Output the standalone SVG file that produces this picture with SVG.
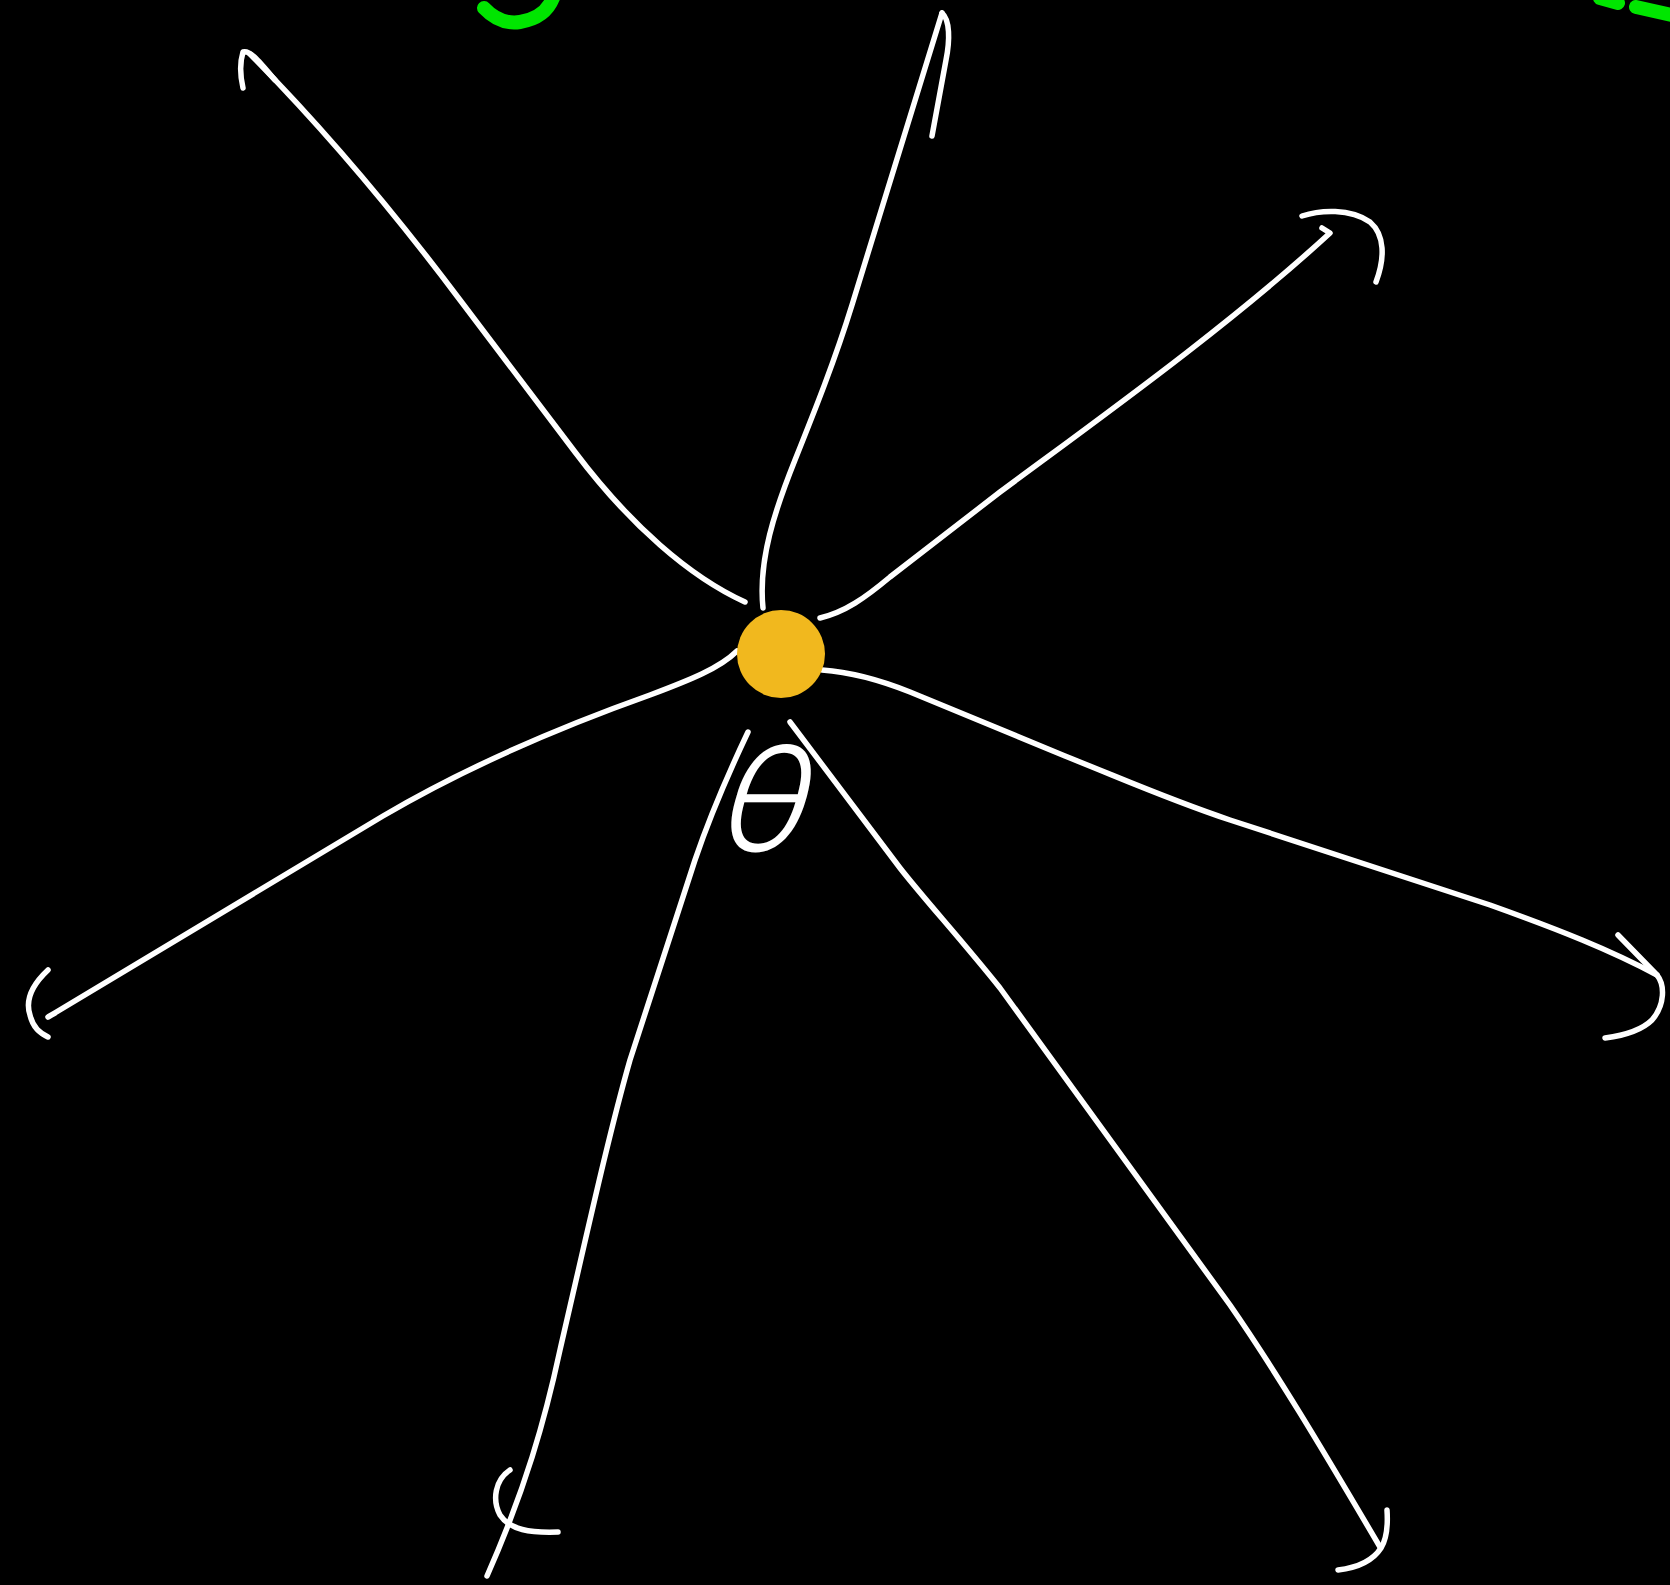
<svg xmlns="http://www.w3.org/2000/svg" width="1670" height="1585" viewBox="0 0 1670 1585">
  <style>
    .ray { fill: none; stroke: #ffffff; stroke-width: 5.5; stroke-linecap: round; stroke-linejoin: round; }
    .ink { fill: none; stroke: #00e600; stroke-width: 14; stroke-linecap: round; }
    .lbl { fill: #ffffff; font-family: "Inter", "DejaVu Sans", sans-serif; font-weight: 300; }
  </style>
  <rect x="0" y="0" width="1670" height="1585" fill="#000000"/>
  <g id="cut-off-ink">
    <path class="ink" d="M484,8 Q500,25 520,22 Q545,18 553,-2"/>
    <path class="ink" d="M1600,-2 L1618,3"/>
    <path class="ink" d="M1636,7 L1672,15"/>
  </g>
  <g id="connectors">
    <path class="ray" d="M745,602 C690,577 630,525 575,452 L460,300 C400,220 330,135 250,54"/>
    <path class="ray" d="M243,88 C240,75 240,62 243,52 C250,50 258,60 275,80"/>
    <path class="ray" d="M763,608 C758,560 775,510 795,460 C815,410 835,360 852,305 L942,13"/>
    <path class="ray" d="M942,13 C950,20 950,40 946,60 L932,136"/>
    <path class="ray" d="M820,618 C845,612 865,598 890,577 L1000,492 C1100,418 1230,325 1330,233 L1322,228"/>
    <path class="ray" d="M1302,216 C1320,210 1350,208 1370,222 C1385,235 1385,258 1376,282"/>
    <path class="ray" d="M822,670 C850,672 880,680 910,692 L1065,756 C1130,782 1170,800 1230,820 L1490,905 C1560,930 1610,950 1657,975"/>
    <path class="ray" d="M1618,935 L1657,975 C1665,985 1665,1005 1652,1020 C1640,1032 1620,1036 1605,1038"/>
    <path class="ray" d="M737,651 C720,668 690,680 650,695 C560,727 470,765 383,816 L48,1017 L55,1013"/>
    <path class="ray" d="M48,970 C32,985 25,1000 30,1015 C33,1028 40,1033 48,1037"/>
    <path class="ray" d="M748,732 C730,770 712,810 695,860 L630,1060 C610,1130 590,1220 560,1350 C545,1420 525,1490 487,1576"/>
    <path class="ray" d="M510,1470 C495,1480 492,1500 500,1515 C510,1530 530,1533 558,1532"/>
    <path class="ray" d="M790,722 L900,868 C925,900 960,938 1000,988 L1230,1305 C1275,1370 1320,1445 1380,1547"/>
    <path class="ray" d="M1387,1510 C1388,1525 1386,1540 1381,1548 C1372,1562 1355,1568 1338,1570"/>
  </g>
  <g id="center">
    <circle cx="781" cy="654" r="44" fill="#f1b81e"/>
  </g>
  <g id="angle-label">
    <text class="lbl" transform="translate(756,851) skewX(-16)" font-size="145" text-anchor="middle">θ</text>
  </g>
</svg>
